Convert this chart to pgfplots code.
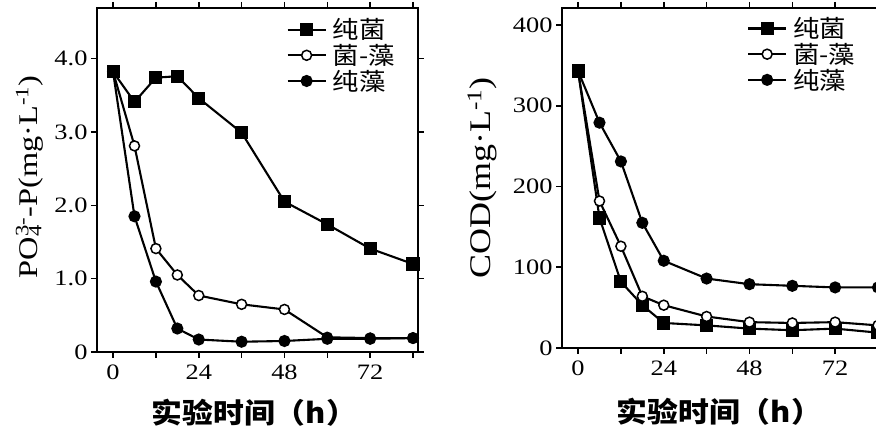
\documentclass[border=0pt]{standalone}
\usepackage{fontspec}
\setmainfont{Liberation Serif}[FakeStretch=1.2]
\newfontfamily\cjk{Noto Sans CJK SC}[FakeStretch=1.1]
\usepackage{pgfplots}
\pgfplotsset{compat=1.18}

\pgfplotstableread{
x    bac   mix   alg
0    3.82  3.82  3.82
6    3.41  2.81  1.85
12   3.74  1.41  0.96
18   3.76  1.05  0.32
24   3.46  0.77  0.17
36   2.99  0.65  0.14
48   2.05  0.58  0.15
60   1.74  0.20  0.18
72   1.41  0.19  0.18
84   1.20  0.19  0.19
}\tabP

\pgfplotstableread{
x    bac   mix   alg
0    343   343   343
6    161   182   279
12   82    126   231
18   53    64    155
24   31    53    108
36   28    39    86
48   24    32    79
60   22    31    77
72   24    32    75
84   19    28    75
}\tabC

\pgfplotsset{mystyle/.style={
  scale only axis,
  width=321pt, 
  axis line style={line width=2pt},
  tick align=outside, major tick length=6pt,
  tick style={line width=1.6pt, black},
  xtick={0,12,...,84}, xticklabels={0,,24,,48,,72,},
  xmin=-4.5, xmax=85.4,
  ticklabel style={font=\fontsize{22}{22}\selectfont},
  xticklabel style={yshift=-3pt},
  /pgf/number format/assume math mode=true,
  every axis plot/.append style={line width=2.1pt, black},
  legend style={draw=none, fill=none, font=\fontsize{24}{25}\cjk, row sep=0pt,
    anchor=north west, inner sep=0pt, cells={anchor=west},
    nodes={inner xsep=6pt}},
  legend image code/.code={\draw[mark repeat=2, mark phase=2, #1] plot coordinates {(0pt,0pt) (19pt,0pt) (38pt,0pt)};},
  xlabel style={font=\fontsize{28}{28}\cjk\bfseries, anchor=center},
  ylabel style={font=\fontsize{27}{27}\selectfont, anchor=center, rotate=0},
  bac/.style={mark=square*, mark size=5.5pt},
  mix/.style={mark=*, mark size=5pt, mark options={fill=white, line width=1.5pt}},
  alg/.style={mark=*, mark size=5pt},
}}

\begin{document}
\begin{tikzpicture}[x=1pt,y=1pt]
\useasboundingbox (0,0) rectangle (876,433);

\begin{axis}[mystyle,
  at={(97pt,81pt)}, anchor=south west,
  height=344pt,
  ymin=0, ymax=4.69,
  ytick={0,1,2,3,4}, yticklabels={0,1.0,2.0,3.0,4.0},
  xlabel={实验时间（h）},
  xlabel style={at={(axis description cs:0.49,-0.177)}},
  ylabel={PO\rlap{\textsubscript{4}}\textsuperscript{3-}-P(mg·L\textsuperscript{-1})},
  ylabel style={at={(axis description cs:-0.21,0.509)}},
  legend style={at={(axis description cs:0.59,0.975)}},
]
\addplot[bac] table[x=x,y=bac] {\tabP};
\addplot[mix] table[x=x,y=mix] {\tabP};
\addplot[alg] table[x=x,y=alg] {\tabP};
\legend{纯菌,菌-藻,纯藻}
\end{axis}

\begin{axis}[mystyle,
  at={(562pt,85pt)}, anchor=south west,
  height=340pt,
  ymin=0, ymax=421,
  ytick={0,100,200,300,400},
  xlabel={实验时间（h）},
  xlabel style={at={(axis description cs:0.49,-0.188)}},
  ylabel={COD(mg·L\textsuperscript{-1})},
  ylabel style={at={(axis description cs:-0.249,0.5)}, font=\fontsize{30}{30}\selectfont},
  legend style={at={(axis description cs:0.576,0.978)}},
]
\addplot[bac] table[x=x,y=bac] {\tabC};
\addplot[mix] table[x=x,y=mix] {\tabC};
\addplot[alg] table[x=x,y=alg] {\tabC};
\legend{纯菌,菌-藻,纯藻}
\end{axis}
\end{tikzpicture}
\end{document}
